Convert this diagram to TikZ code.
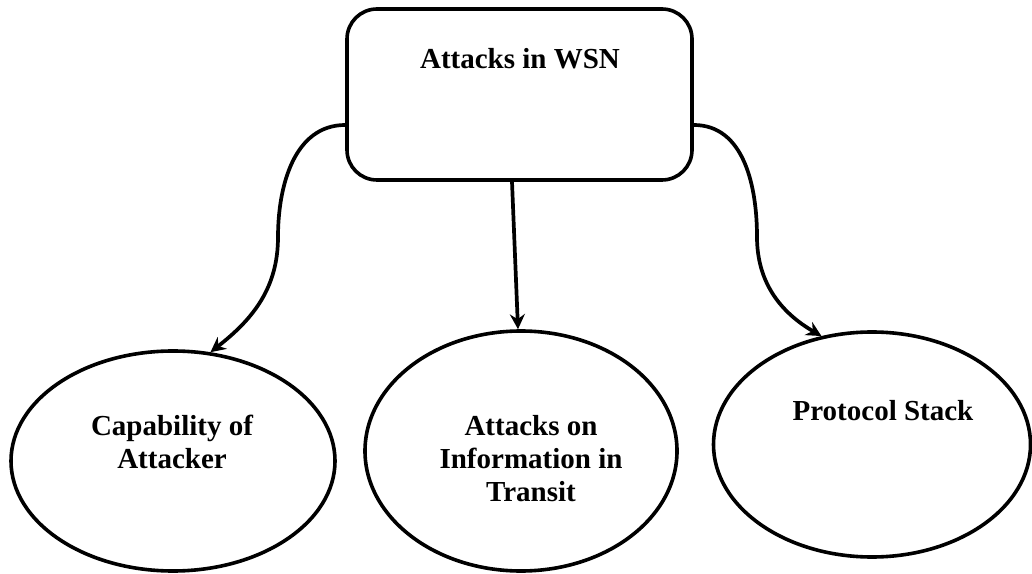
\documentclass[tikz,border=0pt]{standalone}
\usepackage{fontspec}
\setmainfont{Liberation Serif}
\usetikzlibrary{shapes.geometric,arrows.meta,calc}
\begin{document}
\begin{tikzpicture}[x=1pt,y=1pt,
  shapeline/.style={draw=black, line width=3.6pt, inner sep=0pt},
  conn/.style={draw=black, line width=3.7pt, -{Stealth[length=15pt,width=15pt,inset=5pt]}},
  lbl/.style={font=\fontsize{29}{33}\selectfont\bfseries, align=center, inner sep=0pt}]
\useasboundingbox (0,0) rectangle (1032,573);
% top box
\node[shapeline, rectangle, rounded corners=30pt, minimum width=345pt, minimum height=171pt] (box) at (519.5,478.5) {};
\node[lbl, anchor=base] (boxt) at (520,504) {Attacks in WSN};
% ellipses
\node[shapeline, ellipse, minimum width=324pt, minimum height=220pt] (left) at (173,112) {};
\node[lbl] (leftt) at (172,130.8) {Capability of\\Attacker};
\node[shapeline, ellipse, minimum width=312pt, minimum height=240pt] (mid) at (521,122) {};
\node[lbl] (midt) at (531,114) {Attacks on\\Information in\\Transit};
\node[shapeline, ellipse, minimum width=317pt, minimum height=225pt] (right) at (872,128.5) {};
\node[lbl, anchor=base] (rightt) at (883,153) {Protocol Stack};
% bends
\coordinate (lbend) at (278,336);
\coordinate (rbend) at (757,336);
% connectors
\draw[conn] ($(box.west)+(0,-30.5)$) to[out=180,in=90] (lbend) to[out=-90,in=38] (left.71);
\draw[conn] ($(box.south)+(-7.5,0)$) -- ($(mid.north)+(-3,0)$);
\draw[conn] ($(box.east)+(0,-30.5)$) to[out=0,in=90] (rbend) to[out=-90,in=150] (right.115);
\end{tikzpicture}
\end{document}
